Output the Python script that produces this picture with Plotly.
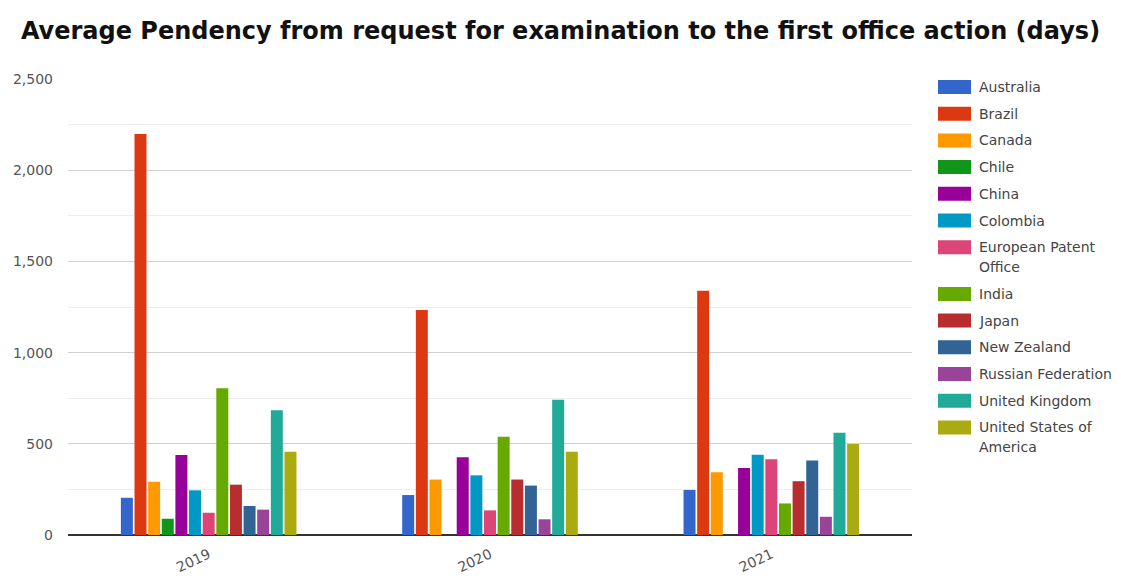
import plotly.graph_objects as go

years = ["2019", "2020", "2021"]
countries = ["Australia", "Brazil", "Canada", "Chile", "China", "Colombia",
             "European Patent<br>Office", "India", "Japan", "New Zealand",
             "Russian Federation", "United Kingdom", "United States of<br>America"]
colors = ["#3366cc", "#dc3912", "#ff9900", "#109618", "#990099", "#0099c6",
          "#dd4477", "#66aa00", "#b82e2e", "#316395", "#994499", "#22aa99", "#aaaa11"]

australia = [204, 219, 247]
brazil = [2198, 1234, 1339]
canada = [292, 304, 344]
chile = [89, None, None]
china = [438, 426, 368]
colombia = [245, 327, 440]
epo = [122, 135, 415]
india = [804, 539, 173]
japan = [276, 304, 295]
new_zealand = [159, 271, 408]
russia = [139, 86, 100]
uk = [684, 742, 560]
usa = [457, 457, 499]

series = [australia, brazil, canada, chile, china, colombia, epo, india,
          japan, new_zealand, russia, uk, usa]

W, H = 1121, 578
ML, MR, MT, MB = 68, 209, 79, 43
PW, PH = W - ML - MR, H - MT - MB

FONT = "'DejaVu Sans', Verdana, sans-serif"

fig = go.Figure()
for i, (name, vals) in enumerate(zip(countries, series)):
    fig.add_trace(go.Bar(x=years, y=vals, name=name.replace("<br>", " "),
                         marker_color=colors[i], marker_line_width=0))

# custom legend (wide swatches like the original)
def px_x(px):
    return (px - ML) / PW

def px_y(py):
    return (H - MB - py) / PH

shapes = []
annotations = []
cy = 87.0
for name, col in zip(countries, colors):
    shapes.append(dict(type="rect", xref="paper", yref="paper",
                       x0=px_x(938), x1=px_x(971), y0=px_y(cy + 7), y1=px_y(cy - 7),
                       fillcolor=col, line=dict(width=0)))
    lines = name.split("<br>")
    for k, ln in enumerate(lines):
        annotations.append(dict(text=ln, xref="paper", yref="paper",
                                x=px_x(977), y=px_y(cy + 20 * k),
                                xanchor="left", yanchor="middle", showarrow=False,
                                font=dict(family=FONT, size=14, color="#444")))
    cy += 26.7 + 20 * (len(lines) - 1)

fig.update_layout(
    width=W, height=H,
    paper_bgcolor="white", plot_bgcolor="white",
    margin=dict(l=ML, r=MR, t=MT, b=MB, autoexpand=False),
    showlegend=False,
    title=dict(text="<b>Average Pendency from request for examination to the first office action (days)</b>",
               x=0.5, xanchor="center", y=1 - 31 / H, yanchor="middle",
               font=dict(family=FONT, size=24, color="#111")),
    barmode="group", bargap=0.37, bargroupgap=0.12,
    font=dict(family=FONT, size=13, color="#555"),
    xaxis=dict(tickangle=-25, showgrid=False, showline=False, ticks="",
               ticklabelstandoff=8, automargin=False,
               tickfont=dict(family=FONT, size=14, color="#555")),
    yaxis=dict(range=[0, 2500], dtick=500, tickformat=",", showline=False,
               gridcolor="#d0d0d0", zeroline=True, zerolinecolor="#333", zerolinewidth=1.5,
               ticks="", ticklabelstandoff=14, automargin=False,
               minor=dict(dtick=250, showgrid=True, gridcolor="#ececec"),
               tickfont=dict(family=FONT, size=14, color="#555")),
    shapes=shapes,
    annotations=annotations,
)

fig.write_html("out.html")
